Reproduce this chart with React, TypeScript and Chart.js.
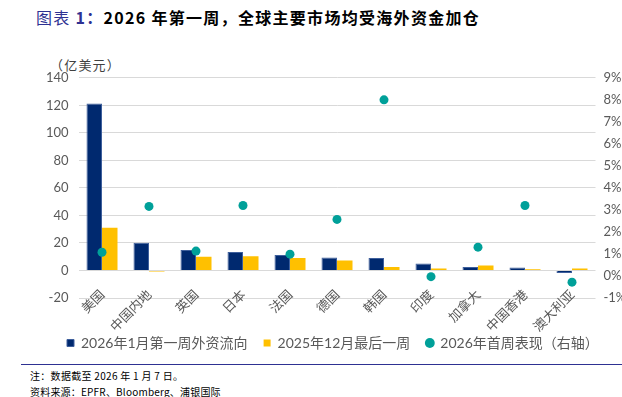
import React, { useEffect, useRef } from 'react';
import { Chart, registerables } from 'chart.js';

Chart.register(...registerables);

const categories = ['美国', '中国内地', '英国', '日本', '法国', '德国', '韩国', '印度', '加拿大', '中国香港', '澳大利亚'];
const flowJan2026 = [121.4, 20.2, 14.9, 13.5, 11.3, 9.4, 9.1, 5.0, 2.6, 2.2, -1.9];
const flowDec2025 = [31.0, -0.8, 9.9, 10.3, 9.1, 7.2, 2.6, 1.4, 3.6, 0.9, 1.4];
const perf2026 = [1.08, 3.16, 1.13, 3.2, 0.99, 2.57, 8.0, -0.03, 1.31, 3.2, -0.28];
const seriesNames = ['2026年1月第一周外资流向', '2025年12月最后一周', '2026年首周表现（右轴）'];
const leftAxis = { min: -20, max: 140, step: 20 };
const rightAxis = { min: -1, max: 9, step: 1 };

const FONT = "Lato, 'Noto Sans CJK SC', sans-serif";
const CJK = "'Noto Sans CJK SC', sans-serif";
const GREY = '#595959';
const LEGEND_PAD = 16;
const LEGEND_FONT = 14;

export default function App() {
  const ref = useRef<HTMLCanvasElement | null>(null);

  useEffect(() => {
    document.body.style.margin = '0';
    if (!ref.current) return;
    const legendPlace = {
      id: 'legendPlace',
      afterLayout(chart: any) {
        const lg = chart.legend;
        if (lg) {
          const h = lg.height;
          lg.left = 67 - LEGEND_PAD;
          lg.top = 343 - 60 - LEGEND_PAD - LEGEND_FONT / 2;
          lg.bottom = lg.top + h;
        }
      },
    };
    const chart = new Chart(ref.current, {
      type: 'bar',
      data: {
        labels: categories,
        datasets: [
          {
            type: 'bar',
            label: seriesNames[0],
            data: flowJan2026,
            backgroundColor: '#00296F',
            borderColor: '#3E5F9C',
            borderWidth: 1,
            pointStyle: 'rect',
            yAxisID: 'y',
            order: 2,
          } as any,
          {
            type: 'bar',
            label: seriesNames[1],
            data: flowDec2025,
            backgroundColor: '#FFC000',
            borderWidth: 0,
            pointStyle: 'rect',
            yAxisID: 'y',
            order: 3,
          } as any,
          {
            type: 'line',
            label: seriesNames[2],
            data: perf2026,
            showLine: false,
            pointRadius: 4.5,
            pointHoverRadius: 4.5,
            pointBackgroundColor: '#00A099',
            pointBorderWidth: 0,
            backgroundColor: '#00A099',
            borderColor: '#00A099',
            borderWidth: 0,
            pointStyle: 'circle',
            yAxisID: 'y1',
            order: 1,
          } as any,
        ],
      },
      options: {
        animation: false,
        responsive: false,
        maintainAspectRatio: false,
        layout: { padding: { top: 16, left: 0, right: 0, bottom: 20 } },
        datasets: { bar: { categoryPercentage: 0.66, barPercentage: 1 } } as any,
        plugins: {
          tooltip: { enabled: false },
          title: { display: false },
          legend: {
            position: 'bottom',
            align: 'start',
            labels: {
              usePointStyle: true,
              boxWidth: 7,
              boxHeight: 7,
              padding: LEGEND_PAD,
              color: GREY,
              font: { family: FONT, size: LEGEND_FONT },
              sort: (a: any, b: any) => a.datasetIndex - b.datasetIndex,
            },
          },
        },
        scales: {
          x: {
            position: { y: 0 } as any,
            grid: { display: false, drawTicks: false },
            border: { display: false },
            ticks: {
              color: GREY,
              font: { family: CJK, size: 13 },
              maxRotation: 45,
              minRotation: 45,
              padding: 16,
              autoSkip: false,
            },
          },
          y: {
            position: 'left',
            min: leftAxis.min,
            max: leftAxis.max,
            grid: { color: '#D9D9D9', lineWidth: 1, drawTicks: false },
            border: { display: false },
            ticks: {
              stepSize: leftAxis.step,
              color: GREY,
              font: { family: FONT, size: 13 },
              padding: 10,
            },
            afterFit: (s: any) => { s.width = 78.5; },
          },
          y1: {
            position: 'right',
            min: rightAxis.min,
            max: rightAxis.max,
            grid: { display: false, drawTicks: false },
            border: { display: false },
            ticks: {
              stepSize: rightAxis.step,
              color: GREY,
              font: { family: FONT, size: 13 },
              padding: 8,
              callback: (v: any) => `${v}%`,
            },
            afterFit: (s: any) => { s.width = 26.5; },
          },
        },
      },
      plugins: [legendPlace],
    });
    return () => chart.destroy();
  }, []);

  return (
    <div style={{ position: 'absolute', left: 0, top: 0, width: 622, height: 397, background: '#fff', overflow: 'hidden' }}>
      <div style={{ position: 'absolute', left: 36, top: 5, fontFamily: CJK, fontSize: 16, letterSpacing: 1.3, whiteSpace: 'nowrap', lineHeight: '24px' }}>
        <span style={{ color: '#2E3192', fontWeight: 400 }}>图表 </span>
        <span style={{ color: '#2E3192', fontWeight: 700 }}>1：</span>
        <span style={{ color: '#000', fontWeight: 700 }}>2026 年第一周，全球主要市场均受海外资金加仓</span>
      </div>
      <div style={{ position: 'absolute', left: 50, top: 56, fontFamily: CJK, fontSize: 13, letterSpacing: 1.2, color: '#404040', whiteSpace: 'nowrap', lineHeight: '18px' }}>
        （亿美元）
      </div>
      <canvas ref={ref} width={622} height={298} style={{ position: 'absolute', left: 0, top: 60, width: 622, height: 298 }} />
      <div style={{ position: 'absolute', left: 21, top: 364, width: 601, height: 0, borderTop: '1.5px solid #2E3192' }} />
      <div style={{ position: 'absolute', left: 30, top: 369, fontFamily: CJK, fontSize: 10, letterSpacing: 0.3, color: '#000', whiteSpace: 'nowrap', lineHeight: '14px' }}>
        注：数据截至 2026 年 1 月 7 日。
      </div>
      <div style={{ position: 'absolute', left: 30, top: 385, fontFamily: CJK, fontSize: 10, letterSpacing: 0.2, color: '#000', whiteSpace: 'nowrap', lineHeight: '14px' }}>
        资料来源：EPFR、Bloomberg、浦银国际
      </div>
    </div>
  );
}
